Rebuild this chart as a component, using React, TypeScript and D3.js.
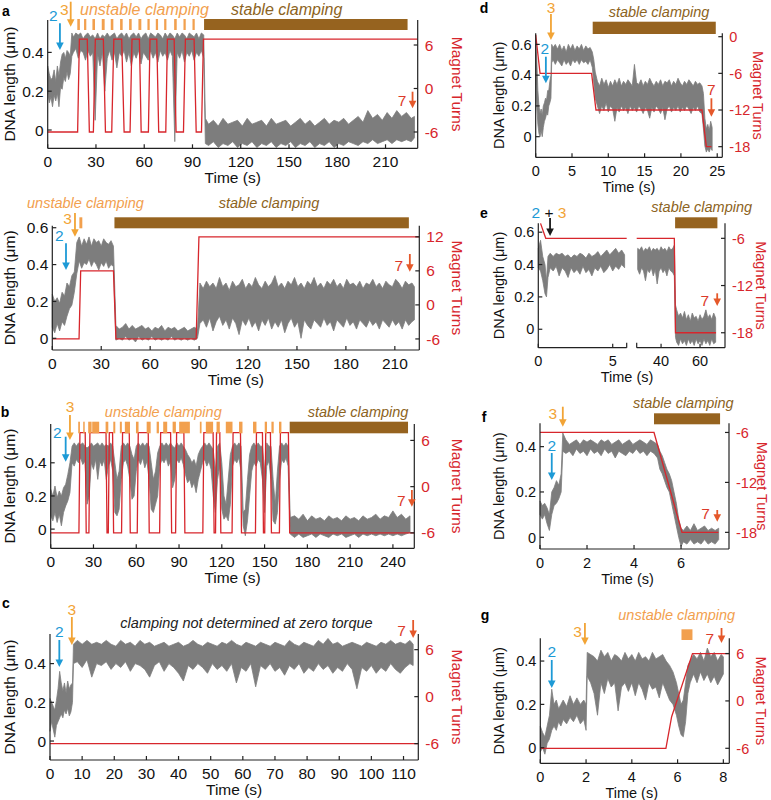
import React from 'react';
import * as d3 from 'd3';

type Tr = [number, number, number];
type Pt = [number, number];

const FONT = '"Liberation Sans", Arial, Helvetica, sans-serif';
const COL = {
  gray: '#7d7d7d', red: '#d7262c', blue: '#1d9ad6', orange: '#f2a436', seven: '#dc3a2a',
  sevenArrow: '#e5582a', unstable: '#f2a04e', stable: '#96631f', stableText: '#8c6322', black: '#1a1a1a',
};

// ---------------- DATA ----------------
// traces: [time (s), low DNA length (µm), high DNA length (µm)]
const traceA1: Tr[] = [[0,0.2,0.33],[1,0.14,0.29],[2,0.17,0.26],[3,0.12,0.27],[4,0.18,0.31],[5,0.15,0.25],[6,0.19,0.33],[7,0.12,0.28],[8,0.22,0.35],[9,0.21,0.39],[10,0.27,0.4],[11,0.25,0.37],[12,0.3,0.41],[13,0.26,0.4],[14,0.29,0.38],[15,0.38,0.5],[16,0.4,0.48],[17.5,0.42,0.5],[19,0.37,0.49],[20.5,0.41,0.5],[22,0.4,0.47],[23.5,0.36,0.49],[25,0.41,0.5],[26.5,0.38,0.48],[28,0.4,0.49],[29.5,0.05,0.47],[31,0.39,0.5],[32.5,0.33,0.47],[34,0.4,0.49],[35.5,0.2,0.48],[37,0.37,0.5],[38.5,0.41,0.48],[40,0.36,0.49],[41.5,0.4,0.5],[43,0.32,0.47],[44.5,0.4,0.49],[46,0.38,0.5],[47.5,0.41,0.48],[49,0.35,0.5],[50.5,0.4,0.47],[52,0.33,0.49],[53.5,0.4,0.5],[55,0.37,0.48],[56.5,0.41,0.5],[58,0.34,0.47],[59.5,0.4,0.49],[61,0.38,0.5],[62.5,0.36,0.47],[64,0.41,0.5],[65.5,0.37,0.49],[67,0.4,0.48],[68.5,0.35,0.5],[70,0.41,0.49],[71.5,0.38,0.47],[73,0.4,0.5],[74.5,0.36,0.48],[76,0.41,0.5],[77.5,0.38,0.49],[79,-0.06,0.47],[80.5,0.4,0.5],[82,0.37,0.48],[83.5,0.41,0.5],[85,0.35,0.49],[86.5,0.4,0.47],[88,0.38,0.5],[89.5,0.41,0.49],[91,0.36,0.48],[92.5,0.4,0.5],[94,0.38,0.47],[95.5,0.41,0.5],[97,0.37,0.49],[98,-0.07,0.06],[100,-0.08,0.03],[103,-0.06,0.05],[106,-0.09,0.02],[109,-0.07,0.06],[112,-0.08,0.03],[115,-0.06,0.04],[118,-0.09,0.05],[121,-0.07,0.02],[124,-0.08,0.06],[127,-0.06,0.03],[130,-0.09,0.04],[133,-0.07,0.05],[136,-0.08,0.02],[139,-0.06,0.06],[142,-0.09,0.03],[145,-0.07,0.04],[148,-0.08,0.05],[151,-0.06,0.02],[154,-0.09,0.04],[157,-0.07,0.06],[160,-0.08,0.03],[163,-0.06,0.05],[166,-0.09,0.02],[169,-0.07,0.04],[172,-0.08,0.06],[175,-0.06,0.03],[178,-0.09,0.05],[181,-0.07,0.04],[184,-0.08,0.06],[187,-0.06,0.03],[190,-0.07,0.05],[193,-0.08,0.07],[196,-0.06,0.04],[199,-0.07,0.1],[202,-0.05,0.06],[205,-0.07,0.08],[208,-0.06,0.05],[211,-0.05,0.09],[214,-0.07,0.06],[217,-0.05,0.1],[220,-0.06,0.07],[223,-0.05,0.09],[226,-0.06,0.06],[228,-0.04,0.07]];

const traceA2: Tr[] = [[0,0.06,0.24],[1.5,0.03,0.2],[3,0.08,0.22],[4.5,0.04,0.19],[6,0.09,0.25],[7.5,0.07,0.23],[9,0.12,0.3],[10.5,0.16,0.28],[12,0.18,0.34],[13.5,0.25,0.36],[15,0.35,0.52],[16.5,0.42,0.55],[18,0.38,0.5],[19.5,0.41,0.54],[21,0.4,0.51],[22.5,0.43,0.55],[24,0.39,0.5],[25.5,0.42,0.54],[27,0.4,0.52],[28.5,0.37,0.53],[30,0.41,0.5],[31.5,0.39,0.54],[33,0.42,0.52],[34.5,0.38,0.51],[36,0.4,0.53],[37.5,0.39,0.5],[39,-0.01,0.07],[41,0.0,0.05],[43,-0.01,0.06],[45,0.01,0.08],[47,-0.01,0.05],[49,0.0,0.07],[51,-0.02,0.05],[53,0.01,0.06],[55,-0.01,0.07],[57,0.0,0.05],[59,-0.01,0.06],[61,0.01,0.04],[63,-0.01,0.06],[65,0.0,0.05],[67,-0.01,0.07],[69,0.0,0.04],[71,-0.01,0.06],[73,0.01,0.05],[75,-0.01,0.06],[77,0.0,0.04],[79,-0.01,0.05],[81,0.0,0.06],[83,-0.01,0.04],[85,0.0,0.05],[87,-0.01,0.06],[89,0.0,0.05],[90.5,0.08,0.3],[92.5,0.1,0.27],[94.5,0.06,0.31],[96.5,0.11,0.28],[98.5,0.04,0.3],[100.5,0.09,0.27],[102.5,0.12,0.33],[104.5,0.07,0.28],[106.5,0.1,0.3],[108.5,0.05,0.26],[110.5,0.11,0.31],[112.5,0.08,0.28],[114.5,0.02,0.29],[116.5,0.1,0.32],[118.5,0.07,0.27],[120.5,0.11,0.3],[122.5,0.06,0.28],[124.5,0.09,0.33],[126.5,0.04,0.29],[128.5,0.1,0.27],[130.5,0.07,0.31],[132.5,0.11,0.28],[134.5,0.05,0.3],[136.5,0.09,0.34],[138.5,0.06,0.28],[140.5,0.1,0.3],[142.5,0.03,0.27],[144.5,0.08,0.31],[146.5,0.11,0.29],[148.5,0.06,0.33],[150.5,0.09,0.28],[152.5,0.0,0.3],[154.5,0.1,0.27],[156.5,0.07,0.31],[158.5,0.05,0.29],[160.5,0.1,0.33],[162.5,0.08,0.28],[164.5,0.06,0.3],[166.5,0.11,0.27],[168.5,0.07,0.31],[170.5,0.09,0.29],[172.5,0.04,0.32],[174.5,0.1,0.28],[176.5,0.08,0.3],[178.5,0.06,0.27],[180.5,0.11,0.32],[182.5,0.07,0.29],[184.5,0.09,0.3],[186.5,0.05,0.28],[188.5,0.1,0.31],[190.5,0.08,0.27],[192.5,0.06,0.3],[194.5,0.1,0.29],[196.5,0.07,0.32],[198.5,0.09,0.28],[200.5,0.05,0.3],[202.5,0.1,0.27],[204.5,0.08,0.31],[206.5,0.06,0.29],[208.5,0.1,0.28],[210.5,0.07,0.32],[212.5,0.09,0.3],[214.5,0.05,0.27],[216.5,0.1,0.31],[218.5,0.07,0.29],[220.5,0.09,0.3],[222,0.1,0.28]];

const traceB: Tr[] = [[0,0.08,0.24],[1.5,0.05,0.2],[3,0.1,0.26],[4.5,0.04,0.19],[6,0.09,0.23],[7.5,0.02,0.2],[9,0.1,0.25],[10.5,0.14,0.27],[12,0.17,0.33],[13.5,0.22,0.4],[15,0.4,0.5],[16.5,0.38,0.52],[18,0.42,0.5],[19.5,0.4,0.52],[21,0.43,0.51],[22.5,0.39,0.52],[24,0.41,0.5],[25.5,0.15,0.49],[27,0.2,0.5],[28.5,0.4,0.52],[30,0.36,0.5],[31.5,0.42,0.51],[33,0.3,0.52],[34.5,0.41,0.5],[36,0.38,0.52],[37.5,0.42,0.5],[39,0.3,0.51],[40.5,0.38,0.5],[42,0.42,0.52],[43.5,0.35,0.5],[45,0.1,0.4],[46.5,0.08,0.3],[48,0.12,0.35],[49.5,0.3,0.5],[51,0.4,0.52],[52.5,0.42,0.5],[54,0.38,0.52],[55.5,0.3,0.5],[57,0.18,0.45],[58.5,0.2,0.42],[60,0.35,0.5],[61.5,0.42,0.52],[63,0.39,0.5],[64.5,0.43,0.52],[66,0.37,0.5],[67.5,0.41,0.52],[69,0.3,0.5],[70.5,0.12,0.4],[72,0.1,0.3],[73.5,0.15,0.35],[75,0.2,0.46],[76.5,0.38,0.5],[78,0.42,0.52],[79.5,0.4,0.5],[81,0.43,0.52],[82.5,0.38,0.5],[84,0.41,0.52],[85.5,0.25,0.5],[87,0.3,0.49],[88.5,0.42,0.52],[90,0.4,0.5],[91.5,0.43,0.52],[93,0.39,0.5],[94.5,0.33,0.48],[96,0.28,0.45],[97.5,0.3,0.43],[99,0.25,0.4],[100.5,0.28,0.42],[102,0.22,0.38],[103.5,0.3,0.45],[105,0.35,0.48],[106.5,0.4,0.5],[108,0.42,0.52],[109.5,0.38,0.5],[111,0.41,0.52],[112.5,0.36,0.5],[114,0.2,0.48],[115.5,0.1,0.35],[117,0.3,0.5],[118.5,0.38,0.52],[120,0.12,0.4],[121.5,0.06,0.2],[123,0.08,0.15],[124.5,0.05,0.3],[126,0.15,0.45],[127.5,0.38,0.5],[129,0.42,0.52],[130.5,0.4,0.5],[132,0.43,0.52],[133.5,0.35,0.5],[135,0.02,0.1],[136.5,-0.04,0.12],[138,0.05,0.3],[139.5,0.2,0.45],[141,0.35,0.5],[142.5,0.4,0.52],[144,0.38,0.5],[145.5,0.42,0.52],[147,0.4,0.5],[148.5,0.3,0.5],[150,0.1,0.35],[151.5,0.38,0.52],[153,0.41,0.5],[154.5,0.3,0.5],[156,0.05,0.3],[157.5,0.03,0.15],[159,0.1,0.35],[160.5,0.3,0.5],[162,0.42,0.52],[163.5,0.4,0.5],[165,0.43,0.52],[166.5,0.38,0.5],[168,-0.03,0.07],[171,-0.05,0.08],[174,-0.03,0.06],[177,-0.05,0.09],[180,-0.04,0.05],[183,-0.03,0.08],[186,-0.05,0.06],[189,-0.03,0.07],[192,-0.04,0.05],[195,-0.05,0.08],[198,-0.03,0.06],[201,-0.04,0.07],[204,-0.03,0.05],[207,-0.05,0.08],[210,-0.04,0.06],[213,-0.03,0.07],[216,-0.05,0.05],[219,-0.03,0.08],[222,-0.04,0.06],[225,-0.03,0.07],[228,-0.04,0.09],[231,-0.03,0.06],[234,-0.04,0.08],[237,-0.03,0.07],[240,-0.04,0.11],[243,-0.03,0.07],[246,-0.04,0.09],[249,-0.03,0.06],[252,-0.02,0.08]];

const traceC: Tr[] = [[0,0.05,0.22],[0.5,0.1,0.2],[1,0.06,0.18],[1.5,0.02,0.16],[2,0.08,0.21],[2.5,0.1,0.27],[3,0.12,0.36],[3.5,0.14,0.3],[4,0.12,0.26],[4.5,0.16,0.3],[5,0.14,0.25],[5.5,0.17,0.31],[6,0.13,0.27],[6.5,0.15,0.29],[7,0.2,0.3],[7.3,0.4,0.5],[8.5,0.41,0.52],[10,0.38,0.5],[11.5,0.42,0.52],[13,0.33,0.5],[14.5,0.4,0.51],[16,0.39,0.5],[17.5,0.41,0.52],[19,0.37,0.5],[20.5,0.4,0.49],[22,0.38,0.52],[23.5,0.41,0.5],[25,0.36,0.51],[26.5,0.4,0.49],[28,0.39,0.52],[29.5,0.37,0.5],[31,0.33,0.51],[32.5,0.39,0.49],[34,0.41,0.5],[35.5,0.36,0.51],[37,0.4,0.49],[38.5,0.38,0.5],[40,0.35,0.51],[41.5,0.31,0.49],[43,0.39,0.5],[44.5,0.37,0.52],[46,0.4,0.5],[47.5,0.38,0.49],[49,0.35,0.51],[50.5,0.4,0.5],[52,0.37,0.49],[53.5,0.39,0.51],[55,0.36,0.5],[56.5,0.4,0.52],[58,0.3,0.5],[59.5,0.38,0.49],[61,0.36,0.51],[62.5,0.4,0.5],[64,0.28,0.49],[65.5,0.39,0.51],[67,0.37,0.5],[68.5,0.4,0.49],[70,0.36,0.51],[71.5,0.38,0.5],[73,0.34,0.49],[74.5,0.39,0.52],[76,0.37,0.5],[77.5,0.4,0.49],[79,0.35,0.51],[80.5,0.38,0.5],[82,0.36,0.49],[83.5,0.4,0.52],[85,0.37,0.5],[86.5,0.39,0.53],[88,0.35,0.5],[89.5,0.38,0.51],[91,0.36,0.49],[92.5,0.4,0.5],[94,0.37,0.51],[95.5,0.27,0.5],[97,0.38,0.49],[98.5,0.36,0.51],[100,0.39,0.5],[101.5,0.35,0.49],[103,0.38,0.51],[104.5,0.36,0.5],[106,0.4,0.52],[107.5,0.37,0.5],[109,0.35,0.51],[110.5,0.38,0.5],[112,0.4,0.52],[113,0.39,0.5]];

const traceD: Tr[] = [[0,0.4,0.6],[0.15,0.2,0.5],[0.3,0.08,0.3],[0.45,0.02,0.2],[0.6,0.0,0.15],[0.75,0.04,0.18],[0.9,0.0,0.14],[1.05,0.06,0.2],[1.2,0.1,0.22],[1.35,0.12,0.25],[1.5,0.15,0.24],[1.65,0.14,0.3],[1.8,0.2,0.3],[1.95,0.22,0.36],[2.1,0.25,0.4],[2.2,0.48,0.6],[2.4,0.5,0.58],[2.7,0.47,0.6],[3.0,0.5,0.57],[3.3,0.48,0.6],[3.6,0.46,0.56],[3.9,0.5,0.59],[4.2,0.47,0.55],[4.5,0.49,0.6],[4.8,0.46,0.57],[5.1,0.5,0.6],[5.4,0.48,0.56],[5.7,0.5,0.59],[6.0,0.47,0.57],[6.3,0.5,0.6],[6.6,0.48,0.56],[6.9,0.49,0.59],[7.2,0.47,0.57],[7.5,0.5,0.58],[7.8,0.45,0.55],[8.0,0.35,0.5],[8.2,0.25,0.42],[8.5,0.2,0.36],[8.8,0.15,0.33],[9.1,0.2,0.38],[9.4,0.17,0.34],[9.7,0.22,0.37],[10.0,0.16,0.32],[10.3,0.2,0.36],[10.6,0.18,0.33],[10.9,0.1,0.37],[11.2,0.19,0.34],[11.5,0.16,0.38],[11.8,0.2,0.33],[12.1,0.17,0.36],[12.4,0.19,0.34],[12.7,0.15,0.37],[13.0,0.2,0.35],[13.3,0.17,0.33],[13.6,0.19,0.47],[13.9,0.16,0.35],[14.2,0.2,0.34],[14.5,0.18,0.37],[14.8,0.15,0.33],[15.1,0.19,0.36],[15.4,0.17,0.34],[15.7,0.12,0.38],[16.0,0.19,0.35],[16.3,0.16,0.33],[16.6,0.2,0.36],[16.9,0.18,0.34],[17.2,0.15,0.37],[17.5,0.19,0.33],[17.8,0.11,0.36],[18.1,0.18,0.35],[18.4,0.2,0.37],[18.7,0.16,0.33],[19.0,0.19,0.36],[19.3,0.17,0.34],[19.6,0.2,0.38],[19.9,0.16,0.35],[20.2,0.19,0.33],[20.5,0.17,0.36],[20.8,0.2,0.34],[21.1,0.18,0.37],[21.4,0.15,0.35],[21.7,0.19,0.33],[22.0,0.17,0.36],[22.3,0.2,0.34],[22.6,0.16,0.35],[22.9,0.15,0.33],[23.1,0.05,0.28],[23.3,-0.06,0.12],[23.5,-0.1,0.05],[23.7,-0.08,0.08],[23.9,-0.1,0.04],[24.1,-0.07,0.1],[24.3,-0.09,0.06]];

const traceE: Tr[] = [[0,0.38,0.5],[0.15,0.36,0.55],[0.3,0.3,0.45],[0.45,0.22,0.4],[0.55,0.2,0.3],[0.65,0.32,0.45],[0.8,0.38,0.47],[1.0,0.36,0.45],[1.2,0.39,0.47],[1.4,0.33,0.46],[1.6,0.38,0.47],[1.8,0.36,0.45],[2.0,0.32,0.46],[2.2,0.38,0.44],[2.4,0.35,0.46],[2.6,0.37,0.45],[2.8,0.34,0.47],[3.0,0.39,0.46],[3.2,0.35,0.44],[3.4,0.37,0.47],[3.6,0.33,0.45],[3.8,0.38,0.46],[4.0,0.36,0.48],[4.2,0.39,0.45],[4.4,0.35,0.47],[4.6,0.37,0.49],[4.8,0.4,0.46],[5.0,0.36,0.48],[5.2,0.39,0.5],[5.4,0.37,0.47],[5.6,0.4,0.49],[5.8,0.38,0.46],[28,0.37,0.5],[29,0.34,0.49],[30,0.38,0.51],[31,0.36,0.48],[32,0.3,0.5],[33,0.37,0.49],[34,0.35,0.51],[35,0.38,0.48],[36,0.33,0.5],[37,0.37,0.49],[38,0.28,0.5],[39,0.36,0.48],[40,0.38,0.51],[41,0.35,0.49],[42,0.37,0.5],[43,0.33,0.48],[44,0.38,0.51],[45,0.36,0.49],[46,0.35,0.5],[46.8,0.33,0.52],[47.4,-0.05,0.15],[48,-0.08,0.12],[49,-0.1,0.08],[50,-0.06,0.1],[51,-0.09,0.07],[52,-0.07,0.11],[53,-0.1,0.06],[54,-0.06,0.09],[55,-0.09,0.05],[56,-0.07,0.1],[57,-0.1,0.07],[58,-0.06,0.08],[59,-0.09,0.05],[60,-0.07,0.09],[61,-0.1,0.06],[62,-0.06,0.08],[63,-0.09,0.12],[64,-0.07,0.07],[65,-0.1,0.09],[66,-0.06,0.06],[67,-0.09,0.1],[68,-0.08,0.07]];

const traceF: Tr[] = [[0,0.1,0.16],[0.1,0.08,0.14],[0.2,0.1,0.15],[0.3,0.06,0.13],[0.4,0.03,0.1],[0.5,0.1,0.2],[0.6,0.14,0.22],[0.7,0.15,0.25],[0.8,0.17,0.23],[0.9,0.2,0.28],[0.97,0.38,0.46],[1.1,0.37,0.43],[1.25,0.38,0.41],[1.4,0.36,0.42],[1.55,0.39,0.43],[1.7,0.37,0.41],[1.85,0.38,0.43],[2.0,0.36,0.42],[2.15,0.39,0.43],[2.3,0.37,0.42],[2.45,0.38,0.41],[2.6,0.36,0.43],[2.75,0.39,0.42],[2.9,0.37,0.43],[3.05,0.38,0.41],[3.2,0.35,0.42],[3.35,0.38,0.43],[3.5,0.37,0.41],[3.65,0.36,0.42],[3.8,0.38,0.43],[3.95,0.37,0.41],[4.1,0.39,0.42],[4.25,0.37,0.43],[4.4,0.38,0.42],[4.55,0.36,0.41],[4.7,0.38,0.43],[4.85,0.37,0.42],[5.0,0.35,0.41],[5.1,0.3,0.38],[5.2,0.28,0.36],[5.3,0.25,0.33],[5.4,0.22,0.3],[5.5,0.2,0.28],[5.6,0.15,0.25],[5.7,0.1,0.2],[5.8,0.05,0.15],[5.9,0.0,0.08],[6.0,-0.04,0.04],[6.1,-0.02,0.03],[6.25,-0.03,0.05],[6.4,-0.01,0.03],[6.55,-0.03,0.06],[6.7,-0.02,0.03],[6.85,-0.03,0.04],[7.0,-0.01,0.05],[7.15,-0.03,0.03],[7.3,-0.02,0.04],[7.45,-0.03,0.03],[7.6,-0.01,0.04]];

const traceG: Tr[] = [[0,-0.02,0.1],[0.1,0.0,0.07],[0.2,-0.03,0.05],[0.3,0.02,0.1],[0.4,0.04,0.15],[0.5,0.08,0.27],[0.6,0.1,0.2],[0.7,0.08,0.22],[0.8,0.12,0.18],[0.9,0.1,0.2],[1.0,0.13,0.22],[1.15,0.11,0.19],[1.3,0.14,0.24],[1.45,0.12,0.2],[1.6,0.15,0.23],[1.75,0.11,0.2],[1.9,0.13,0.22],[2.0,0.08,0.2],[2.05,0.33,0.44],[2.2,0.3,0.43],[2.35,0.25,0.42],[2.5,0.15,0.4],[2.65,0.3,0.45],[2.8,0.25,0.42],[2.95,0.32,0.44],[3.1,0.28,0.4],[3.25,0.3,0.43],[3.4,0.17,0.42],[3.55,0.28,0.4],[3.7,0.3,0.44],[3.85,0.26,0.41],[4.0,0.3,0.43],[4.15,0.24,0.4],[4.3,0.3,0.44],[4.45,0.27,0.41],[4.6,0.22,0.42],[4.75,0.3,0.4],[4.9,0.27,0.44],[5.05,0.28,0.41],[5.2,0.23,0.42],[5.35,0.3,0.43],[5.5,0.26,0.4],[5.65,0.22,0.38],[5.8,0.2,0.35],[5.95,0.15,0.3],[6.05,0.1,0.25],[6.15,0.06,0.2],[6.25,0.05,0.22],[6.35,0.12,0.3],[6.45,0.25,0.38],[6.55,0.3,0.4],[6.7,0.34,0.43],[6.85,0.3,0.41],[7.0,0.35,0.44],[7.15,0.31,0.4],[7.3,0.34,0.46],[7.45,0.3,0.42],[7.6,0.33,0.44],[7.75,0.29,0.4],[7.9,0.32,0.43],[8.0,0.34,0.42]];

// magnet turns: [time (s), turns]
const turnsA1: Pt[] = [[0,-6],[18.6,-6],[19.7,6.8],[24.6,6.8],[25.9,-6],[28.4,-6],[29.6,6.8],[34.6,6.8],[35.9,-6],[39.8,-6],[41.1,6.8],[46,6.8],[47.5,-6],[51.2,-6],[52.4,6.8],[57,6.8],[58.1,-6],[62.6,-6],[63.6,6.8],[67.8,6.8],[69,-6],[73.4,-6],[74.4,6.8],[78.6,6.8],[79.8,-6],[84.4,-6],[85.6,6.8],[91,6.8],[92.3,-6],[95.6,-6],[96.8,6.8],[230,6.8]];
const turnsA2: Pt[] = [[0,-6],[16.4,-6],[17.4,6],[37.5,6],[39,-6],[88.2,-6],[89.9,12],[225,12]];
const turnsB: Pt[] = [[0,-6],[19.8,-6],[20.5,7],[24.2,7],[24.9,-6],[26.8,-6],[27.5,7],[38.8,7],[39.5,-6],[40.4,-6],[41.1,7],[43.4,7],[44.1,-6],[49.7,-6],[50.4,7],[55.1,7],[55.8,-6],[60.7,-6],[61.4,7],[68.4,7],[69.1,-6],[76.4,-6],[77.1,7],[84.1,7],[84.8,-6],[87.6,-6],[88.3,7],[93.4,7],[94.1,-6],[106.7,-6],[107.4,7],[113.9,7],[114.6,-6],[115.6,-6],[116.3,7],[118.6,7],[119.3,-6],[127.2,-6],[127.9,7],[133.1,7],[133.8,-6],[143.6,-6],[144.3,7],[148.5,7],[149.2,-6],[150.1,-6],[150.8,7],[154.1,7],[154.8,-6],[160.4,-6],[161.1,7],[166.7,7],[167.6,-6],[255,-6]];
const turnsC: Pt[] = [[0,-6],[114.6,-6]];
const turnsD: Pt[] = [[0,0.3],[0.6,-6],[7.7,-6],[8.3,-12],[22.9,-12],[23.5,-18],[24.2,-18]];
const turnsE: Pt[] = [[0.15,-4.1],[0.5,-6],[5.94,-6],[27.5,-6],[46.8,-6],[47.4,-18],[68.2,-18]];
const turnsF: Pt[] = [[0,-6],[4.85,-6],[6.04,-18],[7.59,-18]];
const turnsG: Pt[] = [[0,-6],[5.49,-6],[5.74,-2],[6.65,6],[8.26,6]];

// clamping intervals [start s, end s]
const unstableA1: Pt[] = [[18.4,20],[22.6,24],[27.8,29.4],[33.6,35.4],[39.2,40.8],[45,46.6],[50.6,52.2],[56.4,58.2],[62,63.4],[67.2,68.6],[72.4,73.8],[78.6,80.2],[84.4,85.8],[90,91.4]];
const stableA1: Pt[] = [[97.2,223.7]];
const unstableA2: Pt[] = [[16.6,18.4]];
const stableA2: Pt[] = [[38.1,218.6]];
const unstableB: Pt[] = [[19.3,20.5],[22.8,23.8],[26.3,28.7],[29.1,34],[38.5,40.4],[43.9,45.3],[48.5,49.9],[52,55.6],[59.8,61.6],[67.3,70.1],[74.3,75.9],[78.9,81.7],[85.5,87.8],[90.1,97.6],[104.6,105.8],[108.8,113.9],[116.3,118.6],[122.8,127.5],[132.1,134.5],[141.9,144.3],[150.1,151.7],[154.8,156.4],[160.1,161.8]];
const stableB: Pt[] = [[167.6,250.6]];
const stableD: Pt[] = [[7.85,24.8]];
const stableE: Pt[] = [[47.2,68.9]];
const stableF: Pt[] = [[4.85,7.66]];
const unstableG: Pt[] = [[6.17,6.65]];

// ticks
const xTicksA = [0, 30, 60, 90, 120, 150, 180, 210];
const xTicksB = [0, 30, 60, 90, 120, 150, 180, 210, 240];
const xTicksC = [0, 10, 20, 30, 40, 50, 60, 70, 80, 90, 100, 110];
const xTicksD = [0, 5, 10, 15, 20, 25];
const xTicksE = [0, 5, 40, 60];
const xTicksF = [0, 2, 4, 6];
const xTicksG = [0, 2, 4, 6, 8];
const yTicks3 = [0, 0.2, 0.4];
const yTicks4 = [0, 0.2, 0.4, 0.6];
const rTicksSym = [-6, 0, 6];
const rTicksA2 = [-6, 0, 6, 12];
const rTicksD = [0, -6, -12, -18];
const rTicksNeg = [-6, -12, -18];

// ---------------- LAYOUT ----------------
type Seg = { d: [number, number]; r: [number, number] };
type Arrow = { t: number; y0: number; y1: number; color: string; label?: string; lc?: string; dx?: number; ly?: number };
type Label = { text: string; x: number; y: number; color: string; size: number; italic?: boolean; bold?: boolean };

interface PanelCfg {
  L: number; R: number; T: number; B: number;
  segs: Seg[];
  yDom: [number, number]; tDom: [number, number];
  xTicks: number[]; yTicks: number[]; rTicks: number[];
  trace: Tr[]; turns: Pt[]; unstable: Pt[]; stable: Pt[]; barY: [number, number];
  arrows: Arrow[]; labels: Label[];
  fs: number; lx: number; rx: number; tx?: number;
}

const A = (t: number, y0: number, y1: number, kind: '2' | '3' | '7' | 'k', dx = 0, ly = 0): Arrow => {
  if (kind === '2') return { t, y0, y1, color: COL.blue, label: '2', lc: COL.blue, dx, ly };
  if (kind === '3') return { t, y0, y1, color: COL.orange, label: '3', lc: COL.orange, dx, ly };
  if (kind === '7') return { t, y0, y1, color: COL.sevenArrow, label: '7', lc: COL.seven, dx, ly };
  return { t, y0, y1, color: COL.black };
};
const U = (text: string, x: number, y: number, size: number): Label => ({ text, x, y, color: COL.unstable, size, italic: true });
const S = (text: string, x: number, y: number, size: number): Label => ({ text, x, y, color: COL.stableText, size, italic: true });
const P = (text: string, x: number, y: number): Label => ({ text, x, y, color: '#000', size: 14, bold: true });

const panels: PanelCfg[] = [
  { L: 47.7, R: 417.7, T: 20, B: 148.3, segs: [{ d: [0, 230], r: [47.7, 417.7] }], yDom: [-0.0943, 0.567], tDom: [-8.25, 9.45],
    xTicks: xTicksA, yTicks: yTicks3, rTicks: rTicksSym, trace: traceA1, turns: turnsA1, unstable: unstableA1, stable: stableA1, barY: [19, 30],
    arrows: [A(7.6, 23.3, 50, '2', -6.7, 15), A(14.3, 1.7, 26.7, '3', -6.4, 9), A(226.8, 91.7, 108.3, '7', -10.6, 100)],
    labels: [P('a', 6, 11), U('unstable clamping', 144.5, 9.5, 16), S('stable clamping', 286.7, 9.5, 16)], fs: 15.5, lx: 15, rx: 452 },
  { L: 52.3, R: 419.3, T: 225.7, B: 350, segs: [{ d: [0, 225], r: [52.3, 419.3] }], yDom: [-0.0635, 0.611], tDom: [-7.95, 13.96],
    xTicks: xTicksA, yTicks: yTicks4, rTicks: rTicksA2, trace: traceA2, turns: turnsA2, unstable: unstableA2, stable: stableA2, barY: [217.3, 228.3],
    arrows: [A(8.4, 243.3, 270, '2', -6.7, 235), A(13.9, 213, 236.7, '3', -7.3, 218.3), A(219.2, 254, 271.7, '7', -11, 265)],
    labels: [U('unstable clamping', 85.5, 203, 14.5), S('stable clamping', 269, 203, 14.5)], fs: 15.5, lx: 15, rx: 452 },
  { L: 50.7, R: 414.3, T: 424, B: 548.3, segs: [{ d: [0, 255], r: [50.7, 414.3] }], yDom: [-0.1157, 0.634], tDom: [-8.0, 8.13],
    xTicks: xTicksB, yTicks: yTicks3, rTicks: rTicksSym, trace: traceB, turns: turnsB, unstable: unstableB, stable: stableB, barY: [421.7, 433.3],
    arrows: [A(10.5, 436.7, 461.7, '2', -8.4, 432.7), A(13.5, 415, 440, '3', 0, 406), A(253.3, 490, 506.7, '7', -10.6, 500)],
    labels: [P('b', 5, 412), U('unstable clamping', 163.3, 411.7, 14.5), S('stable clamping', 358, 411.7, 14.5)], fs: 15.5, lx: 15, rx: 452 },
  { L: 50, R: 418.3, T: 634, B: 760, segs: [{ d: [0, 114.6], r: [50, 418.3] }], yDom: [-0.098, 0.553], tDom: [-8.09, 8.0],
    xTicks: xTicksC, yTicks: yTicks3, rTicks: rTicksSym, trace: traceC, turns: turnsC, unstable: [], stable: [], barY: [0, 0],
    arrows: [A(2.9, 640, 667, '2', 0, 631.7), A(6.8, 617, 645, '3', 0, 609), A(113, 620, 638, '7', -11.7, 630)],
    labels: [P('c', 6, 603), { text: 'clamping not determined at zero torque', x: 246.5, y: 623, color: '#222', size: 14.5, italic: true }], fs: 15.5, lx: 15, rx: 452 },
  { L: 535.7, R: 722.3, T: 33.3, B: 157.3, segs: [{ d: [0, 25.7], r: [535.7, 722.3] }], yDom: [-0.134, 0.672], tDom: [-19.74, 0.556],
    xTicks: xTicksD, yTicks: yTicks4, rTicks: rTicksD, trace: traceD, turns: turnsD, unstable: [], stable: stableD, barY: [21.7, 34],
    arrows: [A(2.1, 14, 40, '3', 0, 7.5), A(1.4, 56.7, 83.3, '2', -1, 48.3), A(24.2, 98.3, 116.7, '7', 0, 89)],
    labels: [P('d', 484, 8), S('stable clamping', 659, 11.5, 14.5)], fs: 14.5, lx: 504, rx: 753 },
  { L: 538.3, R: 725, T: 223.3, B: 347.7, segs: [{ d: [0, 5.94], r: [538.3, 626.7] }, { d: [27.5, 72.8], r: [636.7, 725] }], yDom: [-0.114, 0.655], tDom: [-19.9, -4.09],
    xTicks: xTicksE, yTicks: yTicks4, rTicks: rTicksNeg, trace: traceE, turns: turnsE, unstable: [], stable: stableE, barY: [217.3, 228.3],
    arrows: [A(0.79, 218, 236, 'k'), A(68.8, 293.3, 306, '7', -12.3, 300)],
    labels: [P('e', 484, 213), S('stable clamping', 701.7, 206.7, 14.5)], fs: 14.5, lx: 504, rx: 756, tx: 627 },
  { L: 540, R: 729, T: 423.3, B: 549, segs: [{ d: [0, 8.04], r: [540, 729] }], yDom: [-0.0517, 0.503], tDom: [-20.0, -4.9],
    xTicks: xTicksF, yTicks: yTicks3, rTicks: rTicksNeg, trace: traceF, turns: turnsF, unstable: [], stable: stableF, barY: [413.3, 424.3],
    arrows: [A(0.97, 406.7, 426.7, '3', -10, 413), A(0.5, 453, 480, '2', 0, 445), A(7.54, 510, 521.7, '7', -11.6, 513.3)],
    labels: [P('f', 484, 417), S('stable clamping', 683.3, 403, 14.5)], fs: 14.5, lx: 504, rx: 757, tx: 627.5 },
  { L: 540.3, R: 729.3, T: 638.3, B: 763.3, segs: [{ d: [0, 8.26], r: [540.3, 729.3] }], yDom: [-0.072, 0.505], tDom: [-7.9, 7.93],
    xTicks: xTicksG, yTicks: yTicks3, rTicks: rTicksSym, trace: traceG, turns: turnsG, unstable: unstableG, stable: [], barY: [629.3, 640],
    arrows: [A(0.5, 660, 688, '2', 0, 651.7), A(1.95, 623, 645, '3', -7.3, 631.7), A(7.92, 628, 643, '7', -11.7, 638)],
    labels: [P('g', 485, 615), U('unstable clamping', 676.7, 615, 14.5)], fs: 14.5, lx: 504, rx: 756, tx: 631.7 },
];

function fmt(v: number) {
  return String(Math.round(v * 10) / 10);
}

function Panel({ p }: { p: PanelCfg }) {
  const segs = p.segs.map((s) => ({ ...s, sc: d3.scaleLinear().domain(s.d).range(s.r) }));
  const inSeg = (s: Seg, t: number) => t >= s.d[0] - 1e-9 && t <= s.d[1] + 1e-9;
  const xOf = (t: number) => {
    for (const s of segs) if (inSeg(s, t)) return s.sc(t);
    return segs[segs.length - 1].sc(t);
  };
  const yS = d3.scaleLinear().domain(p.yDom).range([p.B, p.T]);
  const tS = d3.scaleLinear().domain(p.tDom).range([p.B, p.T]);
  const fs = p.fs;
  const txt = { fontFamily: FONT, fontSize: fs };
  const midY = (p.T + p.B) / 2;
  const tx = p.tx ?? (p.L + p.R) / 2;

  return (
    <g>
      {segs.map((s, i) => {
        const pts = p.trace.filter((d) => inSeg(s, d[0]));
        const ar = d3.area<Tr>().x((d) => s.sc(d[0])).y0((d) => yS(d[1])).y1((d) => yS(d[2]));
        return <path key={'tr' + i} d={ar(pts) || ''} fill={COL.gray} stroke={COL.gray} strokeWidth={0.8} strokeLinejoin="bevel" />;
      })}
      {segs.map((s, i) => {
        const pts = p.turns.filter((d) => inSeg(s, d[0]));
        const ln = d3.line<Pt>().x((d) => s.sc(d[0])).y((d) => tS(d[1]));
        return <path key={'rl' + i} d={ln(pts) || ''} fill="none" stroke={COL.red} strokeWidth={1.3} />;
      })}
      {p.unstable.map((b, i) => (
        <rect key={'u' + i} x={xOf(b[0])} y={p.barY[0]} width={Math.max(1.5, xOf(b[1]) - xOf(b[0]))} height={p.barY[1] - p.barY[0]} fill={COL.unstable} />
      ))}
      {p.stable.map((b, i) => (
        <rect key={'s' + i} x={xOf(b[0])} y={p.barY[0]} width={xOf(b[1]) - xOf(b[0])} height={p.barY[1] - p.barY[0]} fill={COL.stable} />
      ))}
      <g stroke="#222" strokeWidth={1.2} fill="none">
        {segs.map((s, i) => <line key={'xa' + i} x1={s.r[0]} x2={s.r[1]} y1={p.B} y2={p.B} />)}
        {segs.length > 1 && segs.map((s, i) => (
          <g key={'br' + i}>
            {i > 0 && <line x1={s.r[0]} x2={s.r[0]} y1={p.B} y2={p.B - 5} />}
            {i < segs.length - 1 && <line x1={s.r[1]} x2={s.r[1]} y1={p.B} y2={p.B - 5} />}
          </g>
        ))}
        <line x1={p.L} x2={p.L} y1={p.T} y2={p.B} />
        <line x1={p.R} x2={p.R} y1={p.T} y2={p.B} />
        {p.xTicks.map((t) => <line key={'xt' + t} x1={xOf(t)} x2={xOf(t)} y1={p.B} y2={p.B - 4} />)}
        {p.yTicks.map((v) => <line key={'yt' + v} x1={p.L} x2={p.L + 4} y1={yS(v)} y2={yS(v)} />)}
        {p.rTicks.map((v) => <line key={'rt' + v} x1={p.R - 4} x2={p.R} y1={tS(v)} y2={tS(v)} />)}
      </g>
      {p.xTicks.map((t) => (
        <text key={'xl' + t} x={xOf(t)} y={p.B + 18.5} textAnchor="middle" {...txt} fill="#111">{t}</text>
      ))}
      {p.yTicks.map((v) => (
        <text key={'yl' + v} x={p.L - 4} y={yS(v) + fs * 0.36} textAnchor="end" {...txt} fill="#111">{fmt(v)}</text>
      ))}
      {p.rTicks.map((v) => (
        <text key={'rl' + v} x={p.R + 7} y={tS(v) + fs * 0.36} textAnchor="start" {...txt} fill={COL.red}>{v}</text>
      ))}
      <text x={tx} y={p.B + 34.5} textAnchor="middle" {...txt} fill="#111">Time (s)</text>
      <text transform={`translate(${p.lx},${midY}) rotate(-90)`} textAnchor="middle" {...txt} fill="#111">DNA length (μm)</text>
      <text transform={`translate(${p.rx},${midY}) rotate(90)`} textAnchor="middle" {...txt} fill={COL.red}>Magnet Turns</text>
      {p.arrows.map((a, i) => {
        const x = xOf(a.t);
        return (
          <g key={'ar' + i}>
            <line x1={x} x2={x} y1={a.y0} y2={a.y1 - 6} stroke={a.color} strokeWidth={1.8} />
            <path d={`M${x - 3.8},${a.y1 - 7.5}L${x + 3.8},${a.y1 - 7.5}L${x},${a.y1}Z`} fill={a.color} />
            {a.label && (
              <text x={x + (a.dx || 0)} y={(a.ly || 0) + 5.6} textAnchor="middle" fontFamily={FONT} fontSize={15.5} fill={a.lc}>{a.label}</text>
            )}
          </g>
        );
      })}
      {p.labels.map((l, i) => (
        <text key={'lb' + i} x={l.x} y={l.y + l.size * 0.36} textAnchor="middle" fontFamily={FONT} fontSize={l.size}
          fontStyle={l.italic ? 'italic' : 'normal'} fontWeight={l.bold ? 'bold' : 'normal'} fill={l.color}>{l.text}</text>
      ))}
    </g>
  );
}

export default function App() {
  return (
    <svg width={771} height={800} viewBox="0 0 771 800" style={{ position: 'absolute', left: 0, top: 0, background: '#fff' }}>
      <rect x={0} y={0} width={771} height={800} fill="#fff" />
      {panels.map((p, i) => <Panel key={i} p={p} />)}
      <text x={549} y={217.5} textAnchor="middle" fontFamily={FONT} fontSize={15.5}>
        <tspan fill={COL.blue}>2</tspan>
        <tspan fill="#111"> + </tspan>
        <tspan fill={COL.orange}>3</tspan>
      </text>
    </svg>
  );
}
